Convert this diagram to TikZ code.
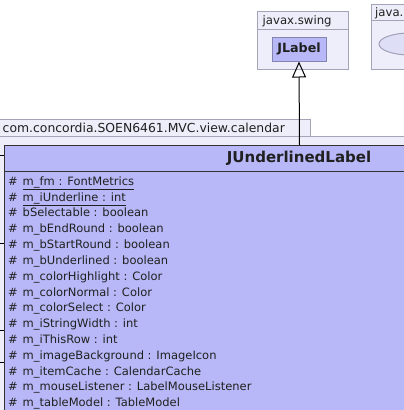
\documentclass[tikz,border=0pt]{standalone}
\usepackage{fontspec}
\setmainfont{DejaVu Sans}
\usetikzlibrary{arrows.meta,shapes.geometric}
\definecolor{pkgfill}{HTML}{EEEEFA}
\definecolor{pkgdraw}{HTML}{A4A4B8}
\definecolor{clsfill}{HTML}{B8B8F8}
\definecolor{clsdraw}{HTML}{8484B0}
\definecolor{ellfill}{HTML}{DEDEF6}
\definecolor{elldraw}{HTML}{A0A0B8}
\definecolor{txt}{HTML}{202020}
\tikzset{
  pkgbox/.style={draw=pkgdraw, fill=pkgfill, line width=1pt, inner sep=0pt, anchor=north west},
  clsbox/.style={draw=clsdraw, fill=clsfill, line width=1pt, inner sep=0pt},
  umlclass/.style={draw=black!80, fill=clsfill, line width=1pt, inner sep=0pt, anchor=north west},
  lbl/.style={inner sep=0pt, anchor=base west, text=txt, font=\fontsize{11.7}{14}\selectfont},
  attr/.style={inner sep=0pt, anchor=base west, text=txt, font=\fontsize{11.5}{14}\selectfont},
  inherit/.style={draw=black, line width=1pt, -{Triangle[open, length=16pt, width=14pt, line width=1pt]}},
  assoc/.style={draw=black, line width=1pt},
}
\begin{document}
\begin{tikzpicture}[x=1pt,y=-1pt]
\useasboundingbox (0,0) rectangle (404,410);
\clip (0,0) rectangle (404,410);
\fill[white] (0,0) rectangle (404,410);

% package javax.swing
\node[pkgbox, minimum width=91pt, minimum height=58pt] (swing) at (257,11) {};
\draw[pkgdraw, line width=1pt] (257,29) -- (348,29);
\node[lbl] (swinglbl) at (262.5,24) {javax.swing};
\node[clsbox, minimum width=54pt, minimum height=24pt, font=\bfseries\fontsize{12.7}{14}\selectfont, text=txt] (jlabel) at (299,49) {JLabel};

% package java.
\node[pkgbox, minimum width=80pt, minimum height=65pt] (javapkg) at (371,4) {};
\draw[pkgdraw, line width=1pt] (371,20) -- (451,20);
\node[lbl] (javalbl) at (375,16.5) {java.};
\node[ellipse, draw=elldraw, fill=ellfill, line width=1pt, minimum width=62pt, minimum height=22pt, inner sep=0pt] (ell) at (410,44) {};

% package calendar
\node[pkgbox, minimum width=311pt, minimum height=17pt] (caltab) at (-1,119) {};
\node[pkgbox, minimum width=520pt, minimum height=400pt] (calbody) at (-1,136) {};
\node[lbl, font=\fontsize{12.4}{14}\selectfont] (callbl) at (2.5,132) {com.concordia.SOEN6461.MVC.view.calendar};

% class
\node[umlclass, minimum width=590pt, minimum height=455pt] (cls) at (4,145) {};
\draw[black!80, line width=1pt] (4,171) -- (594,171);
\node[inner sep=0pt, font=\bfseries\fontsize{15}{18}\selectfont, text=txt] (title) at (299,158.5) {JUnderlinedLabel};

\foreach \i/\t/\u in {
  0/{m\_fm : FontMetrics}/1,
  1/{m\_iUnderline : int}/1,
  2/{bSelectable : boolean}/0,
  3/{m\_bEndRound : boolean}/0,
  4/{m\_bStartRound : boolean}/0,
  5/{m\_bUnderlined : boolean}/0,
  6/{m\_colorHighlight : Color}/0,
  7/{m\_colorNormal : Color}/0,
  8/{m\_colorSelect : Color}/0,
  9/{m\_iStringWidth : int}/0,
  10/{m\_iThisRow : int}/0,
  11/{m\_imageBackground : ImageIcon}/0,
  12/{m\_itemCache : CalendarCache}/0,
  13/{m\_mouseListener : LabelMouseListener}/0,
  14/{m\_tableModel : TableModel}/0}{
  \pgfmathsetmacro{\yy}{181+15.83*\i+4.2}
  \node[attr] (h\i) at (8,\yy) {\#};
  \ifnum\u=1
    \node[attr] (a\i) at (22.5,\yy) {\underline{\t}};
  \else
    \node[attr] (a\i) at (22.5,\yy) {\t};
  \fi
}

% inheritance
\draw[inherit] (cls.north) -- (jlabel.south);

% connector ends at the left edge
\coordinate (t1) at (0,155.7);
\coordinate (t2) at (0,243);
\coordinate (t3) at (0,330);
\coordinate (t4) at (0,362.7);
\foreach \t in {t1,t2,t3,t4} \draw[assoc] (\t) -- (\t -| cls.west);
\end{tikzpicture}
\end{document}
